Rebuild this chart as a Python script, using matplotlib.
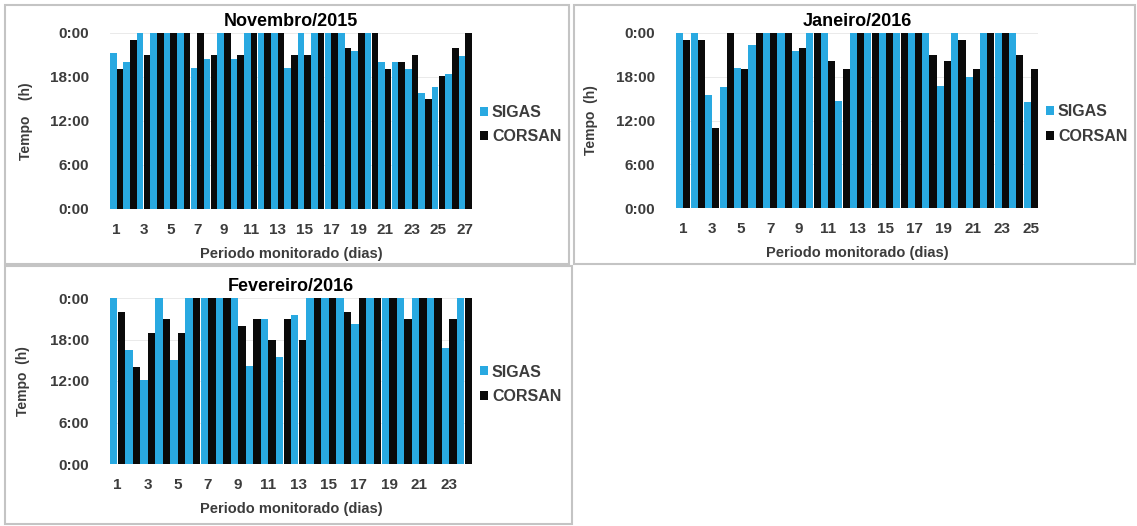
#!/usr/bin/env python
#
# Tempo de abastecimento por dia - SIGAS x CORSAN (3 meses)

import matplotlib
matplotlib.use('Agg')
import matplotlib.pyplot as plt
from matplotlib.patches import Rectangle

plt.rcParams['font.family'] = ['Liberation Sans', 'DejaVu Sans']
plt.rcParams['font.weight'] = 'bold'

# Horas por dia (24 = dia inteiro)
nov_sigas = [21.3, 20.1, 24, 24, 24, 24, 19.2, 20.4, 24, 20.5, 24, 24, 24, 19.2,
             24, 24, 24, 24, 21.6, 24, 20.1, 20.1, 19.1, 15.8, 16.6, 18.4, 20.8]
nov_corsan = [19.1, 23.1, 21.0, 24, 24, 24, 24, 21.0, 24, 21.0, 24, 24, 24, 21.0,
              21.0, 24, 24, 22.0, 24, 24, 19.1, 20.1, 21.0, 15.0, 18.1, 22.0, 24]

jan_sigas = [24, 24, 15.5, 16.6, 19.2, 22.4, 24, 24, 21.6, 24, 24, 14.7, 24,
             24, 24, 24, 24, 24, 16.7, 24, 18.0, 24, 24, 24, 14.6]
jan_corsan = [23.0, 23.0, 11.0, 24, 19.1, 24, 24, 24, 22.0, 24, 20.1, 19.1, 24,
              24, 24, 24, 24, 21.0, 20.1, 23.0, 19.1, 24, 24, 21.0, 19.1]

fev_sigas = [24, 16.5, 12.1, 24, 15.1, 24, 24, 24, 24, 14.2, 21.0, 15.4,
             21.5, 24, 24, 24, 20.2, 24, 24, 24, 24, 24, 16.7, 24]
fev_corsan = [22.0, 14.0, 19.0, 21.0, 19.0, 24, 24, 24, 19.9, 21.0, 17.9, 21.0,
              17.9, 24, 24, 22.0, 24, 24, 24, 21.0, 24, 24, 21.0, 24]

yticks = [0, 6, 12, 18, 24]
ytick_labels = ['0:00', '6:00', '12:00', '18:00', '0:00']

blue = '#29a9e1'
black = '#0a0a0a'
grey = '#3c3c3c'

W, H = 1137., 526.
fig = plt.figure(figsize=(W/100., H/100.), dpi=100)

# Caixas cinzas em volta de cada painel (pixels: x0, y0, x1, y1)
for x0, y0, x1, y1 in [(5, 5, 569, 264), (574, 5, 1135, 264), (5, 266, 572, 524)]:
    fig.add_artist(Rectangle((x0/W, 1-y1/H), (x1-x0)/W, (y1-y0)/H,
                             transform=fig.transFigure, fill=False,
                             edgecolor='#c4c4c4', lw=1.5))

def panel(rect, title, sigas, corsan, ylab, ylab_x):
    ax = fig.add_axes(rect)
    n = len(sigas)
    days = list(range(1, n + 1))
    w = 0.49
    ax.bar([d - 0.25 for d in days], sigas, width=w, color=blue, label='SIGAS', zorder=2)
    ax.bar([d + 0.25 for d in days], corsan, width=w, color=black, label='CORSAN', zorder=2)
    ax.set_xlim(0.5, n + 0.5)
    ax.set_ylim(0, 24)
    ax.set_yticks(yticks)
    ax.set_yticklabels(ytick_labels)
    ax.set_xticks(days[::2])
    ax.tick_params(axis='y', length=0, labelsize=11, colors=grey, pad=15)
    ax.tick_params(axis='x', length=0, labelsize=11, colors=grey, pad=10)
    for s in ax.spines.values():
        s.set_visible(False)
    ax.grid(axis='y', color='#e6e6e6', lw=0.6, zorder=0)
    ax.set_title(title, fontsize=13, fontweight='bold', pad=5)
    ax.set_xlabel('Periodo monitorado (dias)', fontsize=10.5, fontweight='bold', color=grey, labelpad=7)
    ax.set_ylabel(ylab, fontsize=10, fontweight='bold', color=grey)
    ax.yaxis.set_label_coords(ylab_x, 0.5)
    ax.legend(loc='center left', bbox_to_anchor=(1.0, 0.48), frameon=False,
              fontsize=11.5, handlelength=0.5, handleheight=0.5, handletextpad=0.25,
              labelspacing=0.6, borderaxespad=0.1, labelcolor=grey)
    return ax

panel([110/W, 1-209/H, 362/W, 176/H], 'Novembro/2015', nov_sigas, nov_corsan, 'Tempo    (h)', -0.213)
panel([676/W, 1-208/H, 362/W, 175/H], 'Janeiro/2016', jan_sigas, jan_corsan, 'Tempo  (h)', -0.216)
panel([110/W, 1-464/H, 362/W, 166/H], 'Fevereiro/2016', fev_sigas, fev_corsan, 'Tempo  (h)', -0.22)

plt.savefig('out.png', dpi=100)
